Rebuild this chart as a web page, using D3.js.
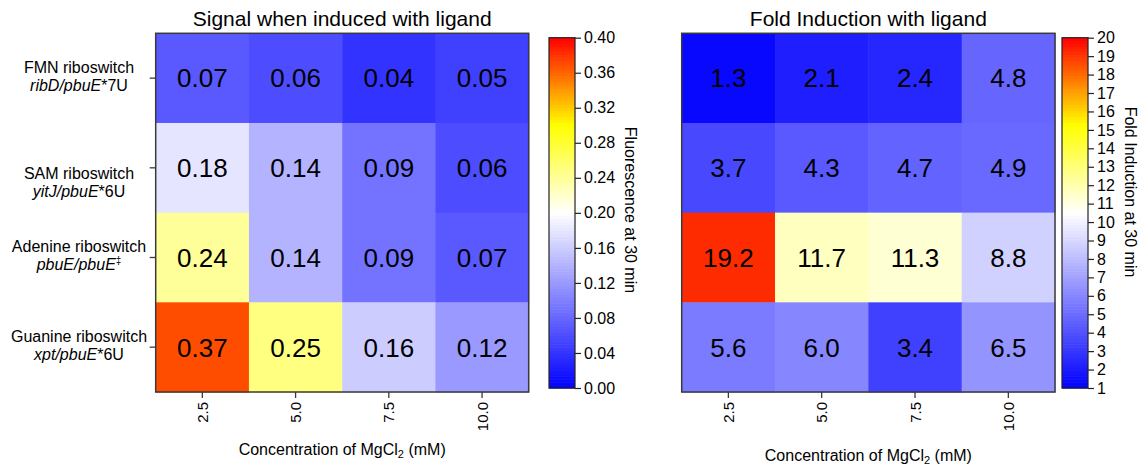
<!DOCTYPE html>
<html>
<head>
<meta charset="utf-8">
<script src="https://cdn.jsdelivr.net/npm/d3@7"></script>
<style>
    body { margin: 0; background: #fff; }
    text { font-family: "Liberation Sans", Arial, sans-serif; fill: #000; }
</style>
</head>
<body>
<svg id="chart" width="1139" height="465"></svg>
<script>
// Data
const concentrations = ["2.5", "5.0", "7.5", "10.0"];
const riboswitches = ["FMN", "SAM", "Adenine", "Guanine"];
const rowNames = ["FMN riboswitch", "SAM riboswitch", "Adenine riboswitch", "Guanine riboswitch"];
const constructs = ["ribD/pbuE", "yitJ/pbuE", "pbuE/pbuE", "xpt/pbuE"];
const constructMarks = ["*7U", "*6U", "\u2021", "*6U"];

// rows = riboswitches, columns = concentrations
const signalValues = [
    [0.07, 0.06, 0.04, 0.05],
    [0.18, 0.14, 0.09, 0.06],
    [0.24, 0.14, 0.09, 0.07],
    [0.37, 0.25, 0.16, 0.12]
];
const foldValues = [
    [1.3, 2.1, 2.4, 4.8],
    [3.7, 4.3, 4.7, 4.9],
    [19.2, 11.7, 11.3, 8.8],
    [5.6, 6.0, 3.4, 6.5]
];

const signalTicks = [0, 0.04, 0.08, 0.12, 0.16, 0.20, 0.24, 0.28, 0.32, 0.36, 0.40];
const foldTicks = [1, 2, 3, 4, 5, 6, 7, 8, 9, 10, 11, 12, 13, 14, 15, 16, 17, 18, 19, 20];

const svg = d3.select("#chart");

// blue -> white -> yellow -> red, white at the middle of the range
function makeColor(lo, hi) {
    const mid = (lo + hi) / 2;
    return d3.scaleLinear()
        .domain([lo, mid, mid + (hi - mid) / 2, hi])
        .range(["#0000ff", "#ffffff", "#ffff00", "#ff0000"])
        .clamp(true);
}

const signalColor = makeColor(0, 0.4);
const foldColor = makeColor(1, 20);

const plotTop = 33.3, plotBottom = 392;

function drawPanel(opt) {
    const x = d3.scaleBand().domain(concentrations).range([opt.x0, opt.x1]);
    const y = d3.scaleBand().domain(riboswitches).range([plotTop, plotBottom]);

    const cells = [];
    riboswitches.forEach((r, i) => {
        concentrations.forEach((c, j) => {
            cells.push({row: r, col: c, v: opt.values[i][j]});
        });
    });

    const g = svg.append("g");

    g.selectAll(".cell")
        .data(cells)
        .enter().append("rect")
        .attr("class", "cell")
        .attr("x", d => x(d.col))
        .attr("y", d => y(d.row))
        .attr("width", x.bandwidth() + 0.5)
        .attr("height", y.bandwidth() + 0.5)
        .style("fill", d => opt.color(d.v));

    g.selectAll(".val")
        .data(cells)
        .enter().append("text")
        .attr("x", d => x(d.col) + x.bandwidth() / 2)
        .attr("y", d => y(d.row) + y.bandwidth() / 2)
        .attr("dy", "0.36em")
        .attr("text-anchor", "middle")
        .style("font-size", "26px")
        .text(d => opt.fmt(d.v));

    g.append("rect")
        .attr("x", opt.x0)
        .attr("y", plotTop)
        .attr("width", opt.x1 - opt.x0)
        .attr("height", plotBottom - plotTop)
        .style("fill", "none")
        .style("stroke", "#3a3a3a")
        .style("stroke-width", 1.5);

    // x axis
    const xAxis = g.append("g")
        .attr("transform", "translate(0," + plotBottom + ")")
        .call(d3.axisBottom(x).tickSize(6).tickSizeOuter(0));
    xAxis.select(".domain").remove();
    xAxis.selectAll("line").style("stroke", "#3a3a3a").style("stroke-width", 1.3);
    xAxis.selectAll("text")
        .attr("y", 0).attr("x", 0).attr("dy", null)
        .attr("transform", "translate(0,10) rotate(-90)")
        .attr("text-anchor", "end")
        .attr("dominant-baseline", "central")
        .style("font-size", "15px")
        .style("font-family", "'Liberation Sans', Arial, sans-serif")
        .style("fill", "#000");

    const xt = g.append("text")
        .attr("x", (opt.x0 + opt.x1) / 2)
        .attr("y", opt.xTitleY)
        .attr("text-anchor", "middle")
        .style("font-size", "16px");
    xt.append("tspan").text("Concentration of MgCl");
    xt.append("tspan").attr("dy", 3).style("font-size", "11px").text("2");
    xt.append("tspan").attr("dy", -3).text(" (mM)");

    g.append("text")
        .attr("x", (opt.x0 + opt.x1) / 2)
        .attr("y", 26)
        .attr("text-anchor", "middle")
        .style("font-size", "21px")
        .text(opt.title);

    if (opt.rowLabels) {
        const yAxis = g.append("g")
            .attr("transform", "translate(" + opt.x0 + ",0)")
            .call(d3.axisLeft(y).tickSize(6).tickSizeOuter(0).tickFormat(""));
        yAxis.select(".domain").remove();
        yAxis.selectAll("line").style("stroke", "#3a3a3a").style("stroke-width", 1.3);

        riboswitches.forEach((r, i) => {
            // the SAM label sits a bit lower than its tick in the original
            const cy = y(r) + y.bandwidth() / 2 + (r === "SAM" ? 16 : 0);
            g.append("text")
                .attr("x", 79).attr("y", cy - 5)
                .attr("text-anchor", "middle")
                .style("font-size", "16px")
                .text(rowNames[i]);
            const t = g.append("text")
                .attr("x", 79).attr("y", cy + 13)
                .attr("text-anchor", "middle")
                .style("font-size", "16px");
            t.append("tspan").style("font-style", "italic").text(constructs[i]);
            if (constructMarks[i] === "\u2021") {
                t.append("tspan").attr("dy", -6).style("font-size", "10px").text(constructMarks[i]);
            } else {
                t.append("tspan").text(constructMarks[i]);
            }
        });
    }
}

function drawColorbar(opt) {
    const y = d3.scaleLinear().domain(opt.domain).range([388, 37.7]);
    const g = svg.append("g");
    const n = 120;
    const step = (opt.domain[1] - opt.domain[0]) / n;
    const bands = d3.range(n).map(i => opt.domain[0] + i * step);

    g.selectAll(".band")
        .data(bands)
        .enter().append("rect")
        .attr("x", opt.x)
        .attr("y", d => y(d + step))
        .attr("width", 26)
        .attr("height", d => y(d) - y(d + step) + 0.6)
        .style("fill", d => opt.color(d + step / 2));

    g.append("rect")
        .attr("x", opt.x).attr("y", 37.7)
        .attr("width", 26).attr("height", 388 - 37.7)
        .style("fill", "none")
        .style("stroke", "#222")
        .style("stroke-width", 1.2);

    const axis = g.append("g")
        .attr("transform", "translate(" + (opt.x + 26) + ",0)")
        .call(d3.axisRight(y).tickValues(opt.ticks).tickFormat(opt.fmt).tickSize(6).tickPadding(3).tickSizeOuter(0));
    axis.select(".domain").remove();
    axis.selectAll("line").style("stroke", "#222").style("stroke-width", 1.2);
    axis.selectAll("text")
        .style("font-size", "16px")
        .style("font-family", "'Liberation Sans', Arial, sans-serif")
        .style("fill", "#000");

    g.append("text")
        .attr("transform", "translate(" + opt.titleX + "," + opt.titleY + ") rotate(90)")
        .attr("text-anchor", "middle")
        .attr("dominant-baseline", "central")
        .style("font-size", "16px")
        .text(opt.title);
}

drawPanel({
    x0: 155.7, x1: 528.7,
    values: signalValues, color: signalColor,
    fmt: d3.format(".2f"),
    title: "Signal when induced with ligand",
    xTitleY: 455, rowLabels: true
});

drawPanel({
    x0: 681.7, x1: 1055,
    values: foldValues, color: foldColor,
    fmt: d3.format(".1f"),
    title: "Fold Induction with ligand",
    xTitleY: 461, rowLabels: false
});

drawColorbar({
    x: 549, domain: [0, 0.4], color: signalColor,
    ticks: signalTicks, fmt: d3.format(".2f"),
    title: "Fluorescence at 30 min", titleX: 630, titleY: 210
});

drawColorbar({
    x: 1062, domain: [1, 20], color: foldColor,
    ticks: foldTicks, fmt: d3.format("d"),
    title: "Fold Induction at 30 min", titleX: 1130, titleY: 192
});
</script>
</body>
</html>
